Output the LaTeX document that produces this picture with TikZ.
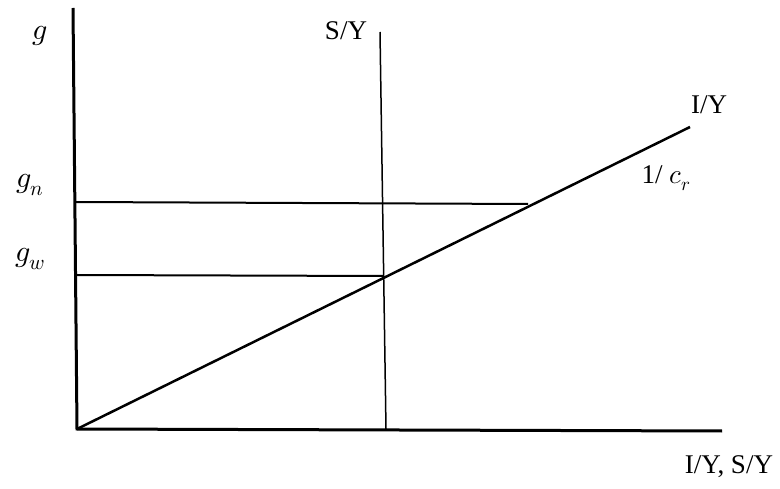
\documentclass[tikz,border=0pt]{standalone}
\usepackage{unicode-math}
\setmainfont{Liberation Serif}
\setmathfont{Latin Modern Math}
\begin{document}
\begin{tikzpicture}[x=1pt,y=-1pt,
  lab/.style={inner sep=0pt,font=\fontsize{27}{31}\selectfont},
  mlab/.style={inner sep=0pt,font=\fontsize{30}{34}\selectfont},
  axis/.style={line width=3pt},
  guide/.style={line width=2pt},
  curve/.style={line width=2.5pt}]
\useasboundingbox (0,0) rectangle (780,489);
\coordinate (top) at (73,8);
\coordinate (O) at (77,429);
\coordinate (xend) at (722,431);
\coordinate (sytop) at (380,32);
\coordinate (sybot) at (386,429);
\coordinate (iyend) at (690,127);
\coordinate (gnL) at (76,202);
\coordinate (gnR) at (528,204);
\coordinate (gwL) at (77,275);
\coordinate (gwR) at (383,276);
\draw[axis] (top) -- (O) -- (xend);
\draw[line width=1.5pt] (sytop) -- (sybot);
\draw[curve] (O) -- (iyend);
\draw[guide] (gnL) -- (gnR);
\draw[guide] (gwL) -- (gwR);
\node[mlab] (g) at (40,36) {$g$};
\node[mlab] (gn) at (30,185) {$g_n$};
\node[mlab] (gw) at (30,259) {$g_w$};
\node[lab] (sy) at (346,31) {S/Y};
\node[lab] (iy) at (709,105) {I/Y};
\node[lab] (cr) at (666,178) {1/ $c_r$};
\node[lab] (xl) at (729,467) {I/Y, S/Y};
\end{tikzpicture}
\end{document}
